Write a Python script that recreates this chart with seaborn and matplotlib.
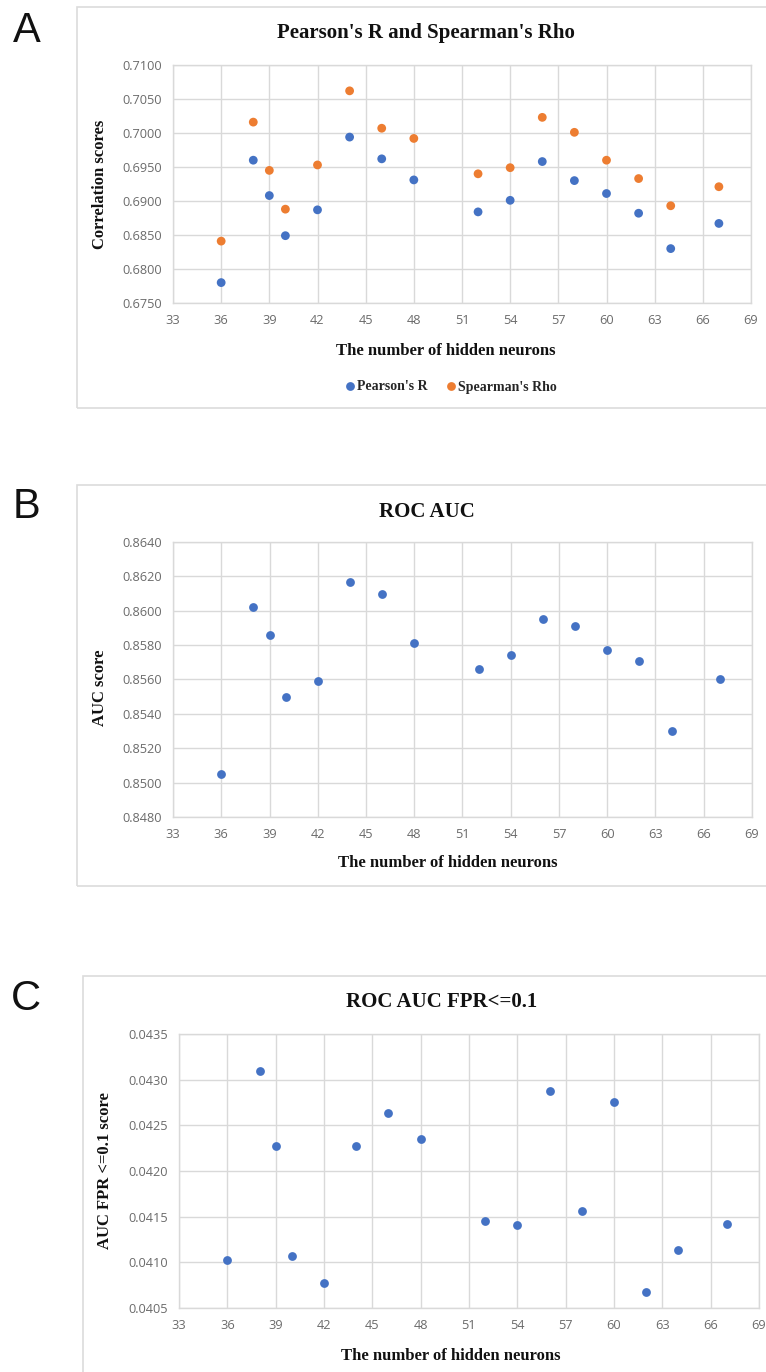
import numpy as np
import pandas as pd
import matplotlib
matplotlib.use("Agg")
import matplotlib.pyplot as plt
from matplotlib.patches import Rectangle
from matplotlib.ticker import FixedLocator, FormatStrFormatter
import seaborn as sns

# ---------------- data ----------------
neurons = [36, 38, 39, 40, 42, 44, 46, 48, 52, 54, 56, 58, 60, 62, 64, 67]
pearson_r = [0.6780, 0.6960, 0.6908, 0.6849, 0.6887, 0.6994, 0.6962, 0.6931,
             0.6884, 0.6901, 0.6958, 0.6930, 0.6911, 0.6882, 0.6830, 0.6867]
spearman_rho = [0.6841, 0.7016, 0.6945, 0.6888, 0.6953, 0.7062, 0.7007, 0.6992,
                0.6940, 0.6949, 0.7023, 0.7001, 0.6960, 0.6933, 0.6893, 0.6921]
roc_auc = [0.8505, 0.8602, 0.8586, 0.8550, 0.8559, 0.8617, 0.8610, 0.8581,
           0.8566, 0.8574, 0.8595, 0.8591, 0.8577, 0.8571, 0.8530, 0.8560]
roc_auc_fpr = [0.04103, 0.04309, 0.04227, 0.04107, 0.04077, 0.04227, 0.04263, 0.04235,
               0.04145, 0.04141, 0.04288, 0.04156, 0.04276, 0.04067, 0.04114, 0.04142]

x_ticks = [33, 36, 39, 42, 45, 48, 51, 54, 57, 60, 63, 66, 69]
y_ticks_a = [0.6750, 0.6800, 0.6850, 0.6900, 0.6950, 0.7000, 0.7050, 0.7100]
y_ticks_b = [0.8480, 0.8500, 0.8520, 0.8540, 0.8560, 0.8580, 0.8600, 0.8620, 0.8640]
y_ticks_c = [0.0405, 0.0410, 0.0415, 0.0420, 0.0425, 0.0430, 0.0435]

series_names = ["Pearson's R", "Spearman's Rho"]
titles = ["Pearson's R and Spearman's Rho", "ROC AUC", "ROC AUC FPR<=0.1"]
ylabels = ["Correlation scores", "AUC score", "AUC FPR <=0.1 score"]
xlabel = "The number of hidden neurons"
panel_letters = ["A", "B", "C"]

BLUE = "#4472C4"
ORANGE = "#ED7D31"
GRID = "#d9d9d9"
TICK = "#6b6b6b"

# ---------------- style ----------------
sns.set_theme(style="white")
plt.rcParams["font.family"] = ["Open Sans", "DejaVu Sans"]
SERIF = ["Liberation Serif", "DejaVu Serif"]
SANS = ["Liberation Sans", "DejaVu Sans"]

W, H = 766, 1372
fig = plt.figure(figsize=(W / 100, H / 100), dpi=100)


def fx(px):
    return px / W


def fy(py):
    return 1 - py / H


def add_axes(l, r, t, b):
    return fig.add_axes([fx(l), fy(b), fx(r) - fx(l), fy(t) - fy(b)])


def style_axes(ax, yticks, fmt):
    ax.set_xlim(33, 69)
    ax.set_ylim(yticks[0], yticks[-1])
    ax.xaxis.set_major_locator(FixedLocator(x_ticks))
    ax.yaxis.set_major_locator(FixedLocator(yticks))
    ax.yaxis.set_major_formatter(FormatStrFormatter(fmt))
    ax.grid(True, color=GRID, linewidth=1.0)
    ax.set_axisbelow(True)
    for s in ax.spines.values():
        s.set_color(GRID)
        s.set_linewidth(1.0)
    ax.tick_params(axis="both", length=0, labelsize=9.2, labelcolor=TICK)
    ax.tick_params(axis="y", pad=8)
    ax.tick_params(axis="x", pad=8)


# frames
frames = [(77, 7, 790, 408), (77, 485, 790, 886), (83, 976, 790, 1420)]
for (l, t, r, b) in frames:
    fig.add_artist(Rectangle((fx(l), fy(b)), fx(r) - fx(l), fy(t) - fy(b),
                             transform=fig.transFigure, fill=False,
                             edgecolor="#dcdcdc", linewidth=1.2, clip_on=False))

# ---------------- Panel A ----------------
axA = add_axes(173, 751, 65, 303)
dfA = pd.DataFrame({
    "neurons": neurons * 2,
    "score": pearson_r + spearman_rho,
    "series": [series_names[0]] * len(neurons) + [series_names[1]] * len(neurons),
})
sns.scatterplot(data=dfA, x="neurons", y="score", hue="series",
                palette=[BLUE, ORANGE], s=40, linewidth=0, ax=axA, legend=True)
style_axes(axA, y_ticks_a, "%.4f")
handles, labels = axA.get_legend_handles_labels()
axA.legend(handles, labels, loc="center", bbox_to_anchor=(fx(450), fy(387)),
           bbox_transform=fig.transFigure, ncol=2, frameon=False,
           prop={"family": SERIF, "weight": "bold", "size": 10},
           handletextpad=0.0, columnspacing=1.2, markerscale=1.0,
           borderpad=0, handlelength=1.0)

# ---------------- Panel B ----------------
axB = add_axes(173, 752, 542, 817)
sns.scatterplot(x=neurons, y=roc_auc, color=BLUE, s=40, linewidth=0, ax=axB)
style_axes(axB, y_ticks_b, "%.4f")

# ---------------- Panel C ----------------
axC = add_axes(179, 759, 1034, 1308)
sns.scatterplot(x=neurons, y=roc_auc_fpr, color=BLUE, s=40, linewidth=0, ax=axC)
style_axes(axC, y_ticks_c, "%.4f")

# labels & titles
axes = [axA, axB, axC]
title_pos = [(426, 33), (427, 512), (442, 1002)]
xlabel_pos = [(446, 351), (448, 863), (451, 1356)]
ylabel_pos = [(100, 184), (100, 688), (105, 1171)]
letter_pos = [(27, 31), (26, 507), (26, 999)]

for ax, yl, (xl_x, xl_y), (yl_x, yl_y) in zip(axes, ylabels, xlabel_pos, ylabel_pos):
    ax.set_xlabel(xlabel, family=SERIF, weight="bold", size=12, color="#111111",
                  va="center", ha="center")
    ax.xaxis.set_label_coords(fx(xl_x), fy(xl_y), transform=fig.transFigure)
    ax.set_ylabel(yl, family=SERIF, weight="bold", size=12, color="#111111",
                  va="center", ha="center")
    ax.yaxis.set_label_coords(fx(yl_x), fy(yl_y), transform=fig.transFigure)

for t, (tx, ty) in zip(titles, title_pos):
    fig.text(fx(tx), fy(ty), t, family=SERIF, weight="bold", size=15,
             color="#111111", ha="center", va="center")

for letter, (lx, ly) in zip(panel_letters, letter_pos):
    fig.text(fx(lx), fy(ly), letter, family=SANS, size=30, color="#111111",
             ha="center", va="center")

fig.savefig("out.png", dpi=100, facecolor="white")
